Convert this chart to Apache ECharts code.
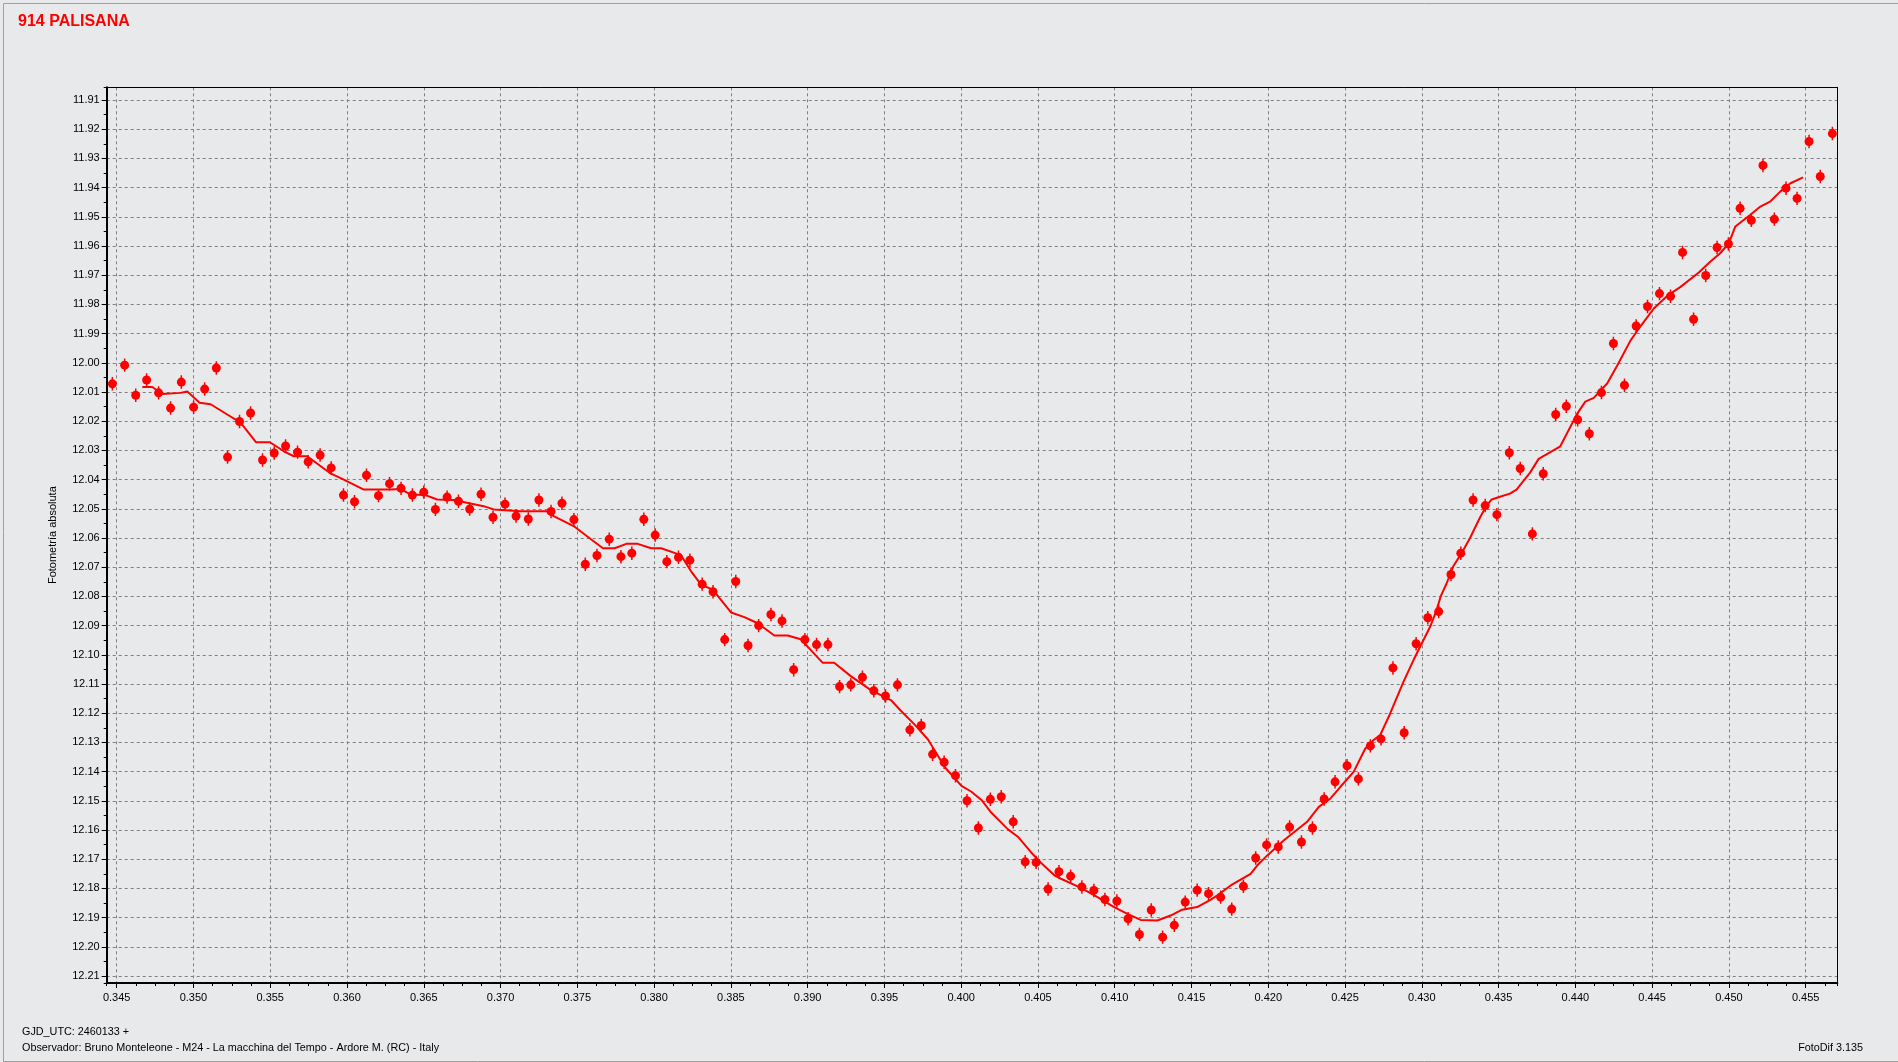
<!DOCTYPE html>
<html>
<head>
<meta charset="utf-8">
<script src="https://cdn.jsdelivr.net/npm/echarts@6/dist/echarts.min.js"></script>
<style>
html,body{margin:0;padding:0;background:#E8E9EB;}
#c{width:1898px;height:1062px;}
</style>
</head>
<body>
<div id="c"></div>
<script>
// GJD_UTC fraction (2460133 +) of each measurement
const jdFrac = [
0.34472,0.34552,0.34624,0.34695,0.34773,0.34851,0.34921,0.35001,0.35073,0.35149,
0.35222,0.35300,0.35372,0.35450,0.35526,0.35600,0.35678,0.35747,0.35825,0.35897,
0.35977,0.36049,0.36127,0.36205,0.36277,0.36352,0.36426,0.36500,0.36576,0.36652,
0.36726,0.36799,0.36873,0.36951,0.37029,0.37101,0.37181,0.37250,0.37329,0.37400,
0.37478,0.37552,0.37628,0.37708,0.37784,0.37855,0.37933,0.38007,0.38083,0.38159,
0.38233,0.38313,0.38384,0.38460,0.38532,0.38612,0.38681,0.38761,0.38833,0.38909,
0.38982,0.39058,0.39132,0.39208,0.39281,0.39357,0.39431,0.39507,0.39585,0.39666,
0.39740,0.39814,0.39889,0.39963,0.40038,0.40112,0.40190,0.40261,0.40339,0.40417,
0.40488,0.40566,0.40637,0.40713,0.40786,0.40864,0.40936,0.41014,0.41087,0.41161,
0.41238,0.41312,0.41388,0.41459,0.41537,0.41611,0.41690,0.41762,0.41838,0.41918,
0.41989,0.42065,0.42139,0.42216,0.42288,0.42364,0.42435,0.42513,0.42587,0.42665,
0.42734,0.42812,0.42885,0.42963,0.43039,0.43110,0.43190,0.43254,0.43334,0.43413,
0.43489,0.43570,0.43641,0.43720,0.43791,0.43872,0.43941,0.44015,0.44091,0.44170,
0.44248,0.44320,0.44396,0.44470,0.44548,0.44620,0.44698,0.44770,0.44849,0.44923,
0.44997,0.45073,0.45146,0.45222,0.45296,0.45372,0.45444,0.45522,0.45595,0.45674
];
// absolute magnitude of each measurement
const mag = [
12.0072,12.0008,12.0111,12.0059,12.0103,12.0155,12.0066,12.0152,12.0090,12.0018,
12.0323,12.0201,12.0172,12.0333,12.0309,12.0285,12.0306,12.0339,12.0316,12.0360,
12.0453,12.0476,12.0385,12.0455,12.0414,12.0430,12.0453,12.0443,12.0502,12.0460,
12.0474,12.0501,12.0450,12.0529,12.0484,12.0525,12.0535,12.0470,12.0509,12.0481,
12.0537,12.0690,12.0660,12.0604,12.0664,12.0652,12.0536,12.0590,12.0681,12.0666,
12.0676,12.0758,12.0784,12.0948,12.0749,12.0968,12.0900,12.0862,12.0884,12.1051,
12.0948,12.0965,12.0965,12.1109,12.1103,12.1077,12.1123,12.1141,12.1103,12.1257,
12.1242,12.1341,12.1368,12.1414,12.1500,12.1593,12.1495,12.1486,12.1572,12.1709,
12.1711,12.1802,12.1743,12.1758,12.1795,12.1807,12.1838,12.1843,12.1904,12.1958,
12.1874,12.1967,12.1926,12.1847,12.1806,12.1818,12.1830,12.1871,12.1793,12.1696,
12.1651,12.1658,12.1590,12.1641,12.1593,12.1494,12.1435,12.1380,12.1425,12.1312,
12.1288,12.1045,12.1267,12.0962,12.0873,12.0852,12.0725,12.0652,12.0470,12.0489,
12.0520,12.0308,12.0362,12.0586,12.0380,12.0177,12.0149,12.0195,12.0243,12.0102,
11.9934,12.0077,11.9874,11.9807,11.9763,11.9772,11.9622,11.9851,11.9701,11.9605,
11.9593,11.9471,11.9512,11.9324,11.9508,11.9402,11.9437,11.9242,11.9362,11.9215
];
// error bar half-length (mag)
const magErr = 0.0023;
// smoothed curve
const fitX = [
0.34667,0.34732,0.34797,0.34916,0.34960,0.35040,0.35112,0.35220,0.35307,0.35407,
0.35498,0.35589,0.35654,0.35741,0.35893,0.35979,0.36110,0.36283,0.36348,0.36413,
0.36511,0.36587,0.36695,0.36804,0.36890,0.36956,0.37129,0.37303,0.37346,0.37476,
0.37591,0.37667,0.37743,0.37819,0.37894,0.37981,0.38046,0.38133,0.38176,0.38241,
0.38306,0.38382,0.38501,0.38588,0.38675,0.38783,0.38870,0.38956,0.39097,0.39173,
0.39281,0.39412,0.39542,0.39612,0.39699,0.39785,0.39894,0.40002,0.40067,0.40132,
0.40197,0.40305,0.40369,0.40456,0.40521,0.40607,0.40650,0.40780,0.40888,0.40996,
0.41083,0.41169,0.41277,0.41364,0.41439,0.41537,0.41623,0.41669,0.41755,0.41885,
0.41929,0.41994,0.42102,0.42253,0.42329,0.42405,0.42470,0.42556,0.42632,0.42686,
0.42729,0.42794,0.42881,0.42946,0.43054,0.43097,0.43123,0.43162,0.43205,0.43260,
0.43314,0.43379,0.43422,0.43455,0.43509,0.43574,0.43617,0.43704,0.43761,0.43902,
0.44011,0.44065,0.44120,0.44207,0.44272,0.44359,0.44424,0.44511,0.44598,0.44685,
0.44804,0.44880,0.44945,0.45000,0.45042,0.45140,0.45205,0.45271,0.45336,0.45401,
0.45483
];
const fitMag = [
12.0083,12.0083,12.0107,12.0103,12.0098,12.0137,12.0142,12.0177,12.0205,12.0272,
12.0272,12.0303,12.0320,12.0320,12.0379,12.0400,12.0434,12.0434,12.0432,12.0451,
12.0453,12.0468,12.0470,12.0482,12.0491,12.0502,12.0508,12.0508,12.0525,12.0559,
12.0605,12.0635,12.0635,12.0620,12.0620,12.0635,12.0635,12.0651,12.0660,12.0714,
12.0760,12.0777,12.0855,12.0871,12.0892,12.0934,12.0934,12.0947,12.1027,12.1027,
12.1073,12.1121,12.1155,12.1194,12.1240,12.1291,12.1385,12.1449,12.1469,12.1497,
12.1541,12.1598,12.1623,12.1677,12.1713,12.1755,12.1767,12.1798,12.1830,12.1864,
12.1887,12.1908,12.1910,12.1893,12.1873,12.1864,12.1839,12.1824,12.1790,12.1750,
12.1721,12.1687,12.1635,12.1572,12.1521,12.1492,12.1452,12.1401,12.1321,12.1292,
12.1275,12.1201,12.1092,12.1018,12.0904,12.0846,12.0800,12.0755,12.0697,12.0651,
12.0600,12.0530,12.0489,12.0468,12.0459,12.0448,12.0434,12.0377,12.0329,12.0286,
12.0175,12.0133,12.0120,12.0071,12.0010,11.9924,11.9875,11.9814,11.9771,11.9740,
11.9691,11.9653,11.9624,11.9590,11.9533,11.9493,11.9465,11.9447,11.9413,11.9385,
11.9365
];
// axis ranges and tick steps
const xRange = [0.34435, 0.45706];
const yRange = [11.90565, 12.2124];
const xStep = 0.005, xMinorStep = 0.00125;
const yStep = 0.01, yMinorStep = 0.005;

const titleText = '914 PALISANA';
const yName = 'Fotometría absoluta';
const footLeft1 = 'GJD_UTC: 2460133 +';
const footLeft2 = 'Observador: Bruno Monteleone - M24 - La macchina del Tempo - Ardore M. (RC) - Italy';
const footRight = 'FotoDif 3.135';

const FONT = '"Liberation Sans", Arial, sans-serif';
const RED = '#FF0000';

const points = jdFrac.map((x, i) => [x, mag[i], magErr]);
const fit = fitX.map((x, i) => [x, fitMag[i]]);

const chart = echarts.init(document.getElementById('c'), null, {renderer: 'canvas', width: 1898, height: 1062});

const baseX = {
  type: 'value', min: xRange[0], max: xRange[1], gridIndex: 0, position: 'bottom', scale: true
};
const baseY = {
  type: 'value', min: yRange[0], max: yRange[1], inverse: true, gridIndex: 0, position: 'left', scale: true
};

chart.setOption({
  backgroundColor: '#E8E9EB',
  animation: false,
  textStyle: {fontFamily: FONT},
  title: {
    text: titleText, left: 18, top: 14, padding: 0,
    textStyle: {color: RED, fontSize: 16, fontWeight: 'bold', fontFamily: FONT}
  },
  grid: {
    left: 106.7, right: 60.7, top: 87.3, bottom: 79,
    show: false, containLabel: false
  },
  xAxis: [
    Object.assign({}, baseX, {
      splitNumber: 22, minInterval: xStep, maxInterval: xStep, z: 1,
      axisLine: {show: true, onZero: false, lineStyle: {color: '#000', width: 2}},
      axisTick: {show: true, length: 5, lineStyle: {color: '#000', width: 1}},
      axisLabel: {show: true, showMinLabel: false, showMaxLabel: false, margin: 9,
        color: '#000', fontSize: 11, fontFamily: FONT, formatter: v => v.toFixed(3)},
      splitLine: {show: true, lineStyle: {color: '#7F7F7F', width: 1, type: [3, 3]}}
    }),
    Object.assign({}, baseX, {
      splitNumber: 90, minInterval: xMinorStep, maxInterval: xMinorStep, z: 1,
      axisLine: {show: false},
      axisTick: {show: true, length: 3, lineStyle: {color: '#000', width: 1}},
      axisLabel: {show: false}, splitLine: {show: false}
    }),
    Object.assign({}, baseX, {
      position: 'top', z: 10,
      axisLine: {show: true, onZero: false, lineStyle: {color: '#000', width: 1}},
      axisTick: {show: false}, axisLabel: {show: false}, splitLine: {show: false}
    })
  ],
  yAxis: [
    Object.assign({}, baseY, {
      splitNumber: 31, minInterval: yStep, maxInterval: yStep, z: 1,
      name: yName, nameLocation: 'middle', nameRotate: 90, nameGap: 48,
      nameTextStyle: {color: '#000', fontSize: 11, fontFamily: FONT},
      axisLine: {show: true, onZero: false, lineStyle: {color: '#000', width: 2}},
      axisTick: {show: true, length: 5, lineStyle: {color: '#000', width: 1}},
      axisLabel: {show: true, showMinLabel: false, showMaxLabel: false, margin: 7,
        color: '#000', fontSize: 11, fontFamily: FONT, formatter: v => v.toFixed(2)},
      splitLine: {show: true, lineStyle: {color: '#7F7F7F', width: 1, type: [3, 3]}}
    }),
    Object.assign({}, baseY, {
      splitNumber: 62, minInterval: yMinorStep, maxInterval: yMinorStep, z: 1,
      axisLine: {show: false},
      axisTick: {show: true, length: 3, lineStyle: {color: '#000', width: 1}},
      axisLabel: {show: false}, splitLine: {show: false}
    }),
    Object.assign({}, baseY, {
      position: 'right', z: 10,
      axisLine: {show: true, onZero: false, lineStyle: {color: '#000', width: 1}},
      axisTick: {show: false}, axisLabel: {show: false}, splitLine: {show: false}
    })
  ],
  series: [
    {
      type: 'custom', xAxisIndex: 0, yAxisIndex: 0, z: 3,
      data: points, clip: true,
      renderItem: function (params, api) {
        const x = api.value(0), y = api.value(1), e = api.value(2);
        const p1 = api.coord([x, y - e]);
        const p2 = api.coord([x, y + e]);
        return {
          type: 'line',
          shape: {x1: p1[0], y1: p1[1], x2: p2[0], y2: p2[1]},
          style: {stroke: RED, lineWidth: 1.5}
        };
      }
    },
    {
      type: 'scatter', xAxisIndex: 0, yAxisIndex: 0, z: 4,
      data: points.map(p => [p[0], p[1]]),
      symbol: 'circle', symbolSize: 9,
      itemStyle: {color: RED, opacity: 1}
    },
    {
      type: 'line', xAxisIndex: 0, yAxisIndex: 0, z: 5,
      data: fit, symbol: 'none', smooth: false,
      lineStyle: {color: RED, width: 2}
    }
  ],
  graphic: [
    {type: 'rect', left: 1, top: 1, z: 100, silent: true,
      shape: {width: 1895, height: 1058},
      style: {fill: 'none', stroke: '#A0A0A0', lineWidth: 1}},
    {type: 'text', left: 22, top: 1027, z: 100,
      style: {text: footLeft1, fill: '#000', font: '10.8px ' + FONT}},
    {type: 'text', left: 22, top: 1043, z: 100,
      style: {text: footLeft2, fill: '#000', font: '10.8px ' + FONT}},
    {type: 'text', right: 35, top: 1043, z: 100,
      style: {text: footRight, fill: '#000', font: '10.8px ' + FONT}}
  ]
});
</script>
</body>
</html>
